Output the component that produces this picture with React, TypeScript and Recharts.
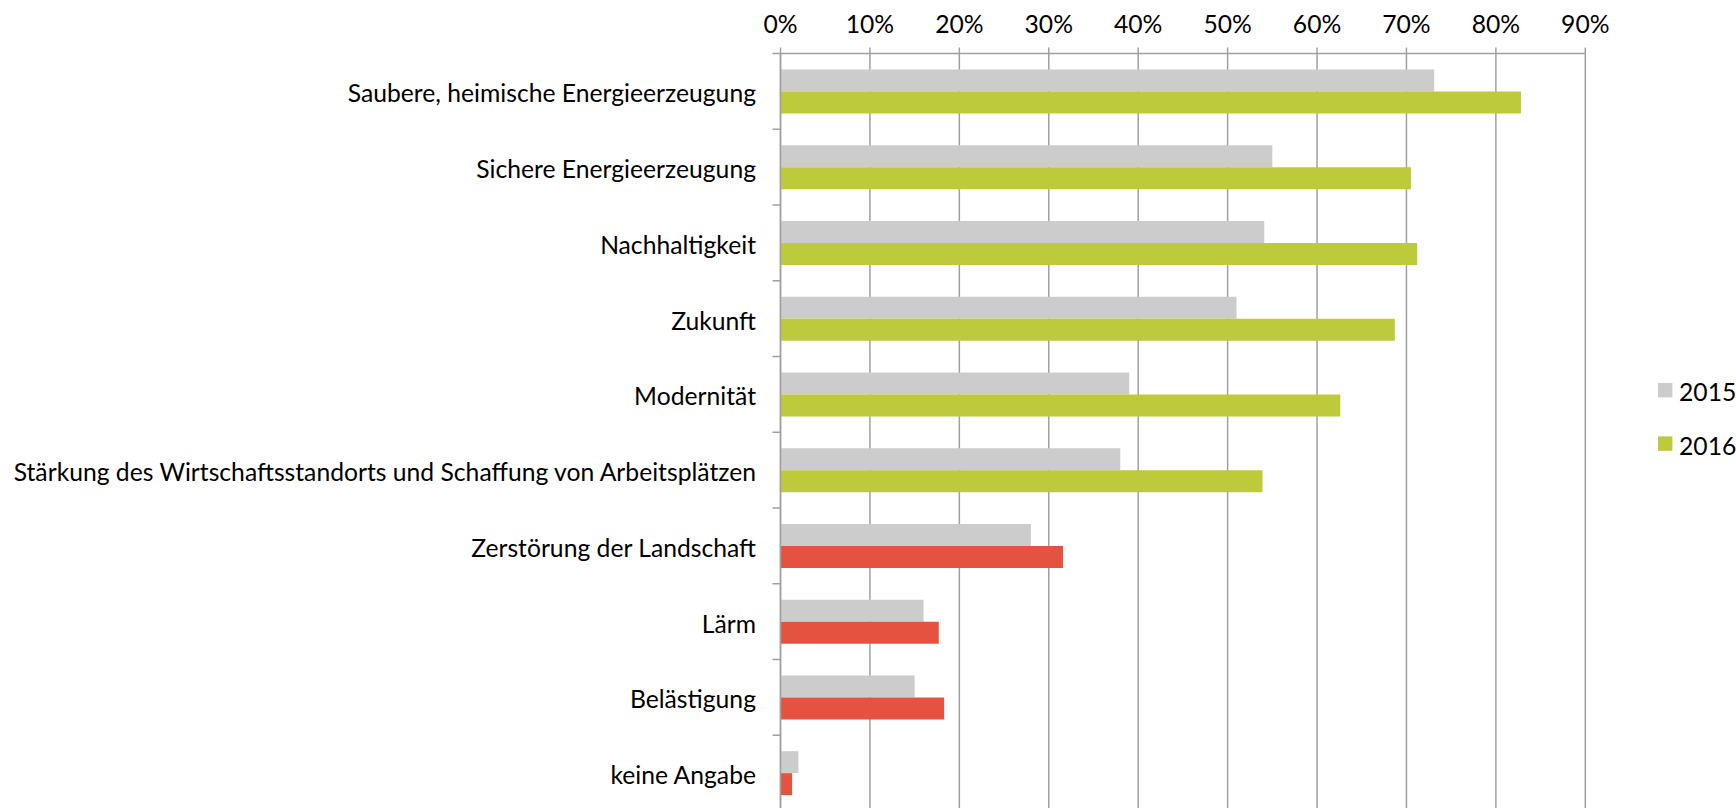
import React from 'react';
import { BarChart, Bar, XAxis, YAxis, CartesianGrid, Legend, Cell } from 'recharts';

const categories = [
  'Saubere, heimische Energieerzeugung',
  'Sichere Energieerzeugung',
  'Nachhaltigkeit',
  'Zukunft',
  'Modernität',
  'Stärkung des Wirtschaftsstandorts und Schaffung von Arbeitsplätzen',
  'Zerstörung der Landschaft',
  'Lärm',
  'Belästigung',
  'keine Angabe',
];
const values2015 = [73.1, 55.0, 54.1, 51.0, 39.0, 38.0, 28.0, 16.0, 15.0, 2.0];
const values2016 = [82.8, 70.5, 71.2, 68.7, 62.6, 53.9, 31.6, 17.7, 18.3, 1.3];
const isNegative = [false, false, false, false, false, false, true, true, true, true];
const xTicks = [0, 10, 20, 30, 40, 50, 60, 70, 80, 90];
const seriesNames = ['2015', '2016'];

const GRAY = '#CCCCCC';
const GREEN = '#BDCA3B';
const RED = '#E55340';
const GRID = '#A0A0A0';
const FONT = 'Lato, sans-serif';
const FS = 24.7;
const AXIS_X = 780.5;

const data = categories.map((name, i) => ({
  name,
  y2015: values2015[i],
  y2016: values2016[i],
  color2016: isNegative[i] ? RED : GREEN,
}));

const YTick = (props: any) => {
  const { y, payload } = props;
  const half = payload && payload.offset ? payload.offset : 37.875;
  return (
    <g>
      <line x1={AXIS_X - 8} x2={AXIS_X} y1={y - half} y2={y - half} stroke={GRID} strokeWidth={1.5} />
      <text x={AXIS_X - 24.5} y={y} dy={11} textAnchor="end" fontSize={FS} fill="#000" fontFamily={FONT}>
        {payload.value}
      </text>
    </g>
  );
};

const LegendContent = (props: any) => {
  const payload = props.payload && props.payload.length ? props.payload : seriesNames.map((n) => ({ value: n }));
  return (
    <svg width={78} height={80} style={{ display: 'block', overflow: 'visible' }}>
      {payload.map((p: any, i: number) => (
        <g key={i} transform={`translate(0, ${i * 53.4})`}>
          <rect x={0} y={0} width={14.4} height={14.4} fill={i === 0 ? GRAY : GREEN} />
          <text x={21} y={18.4} fontSize={FS} fill="#000" fontFamily={FONT}>{p.value}</text>
        </g>
      ))}
    </svg>
  );
};

export default function App() {
  return (
    <div style={{ position: 'absolute', left: 0, top: 0, width: 1736, height: 808, overflow: 'hidden', fontFamily: FONT, background: '#fff' }}>
      <BarChart
        width={1736}
        height={811}
        data={data}
        layout="vertical"
        margin={{ top: 0, right: 150.7, bottom: 0, left: 0 }}
        barCategoryGap="21%"
        barGap={0}
      >
        <CartesianGrid vertical horizontal={false} stroke={GRID} strokeWidth={1.5} />
        <XAxis
          type="number"
          orientation="top"
          domain={[0, 90]}
          ticks={xTicks}
          interval={0}
          tickFormatter={(v: number) => `${v}%`}
          height={53.5}
          tickSize={6}
          tickMargin={15}
          stroke={GRID}
          axisLine={{ stroke: GRID, strokeWidth: 1.5 }}
          tickLine={{ stroke: GRID, strokeWidth: 1.5 }}
          tick={{ fill: '#000', fontSize: FS, fontFamily: FONT }}
        />
        <YAxis
          type="category"
          dataKey="name"
          width={AXIS_X}
          interval={0}
          tickLine={false}
          axisLine={{ stroke: GRID, strokeWidth: 1.5 }}
          tick={(p: any) => <YTick {...p} />}
        />
        <Legend
          layout="horizontal"
          verticalAlign="middle"
          align="center"
          content={(p: any) => <LegendContent {...p} />}
          wrapperStyle={{ position: 'absolute', left: 1658.3, top: 383.3, width: 78, height: 80 }}
        />
        <Bar dataKey="y2015" name={seriesNames[0]} fill={GRAY} isAnimationActive={false} />
        <Bar dataKey="y2016" name={seriesNames[1]} fill={GREEN} isAnimationActive={false}>
          {data.map((d, i) => (
            <Cell key={i} fill={d.color2016} />
          ))}
        </Bar>
      </BarChart>
    </div>
  );
}
